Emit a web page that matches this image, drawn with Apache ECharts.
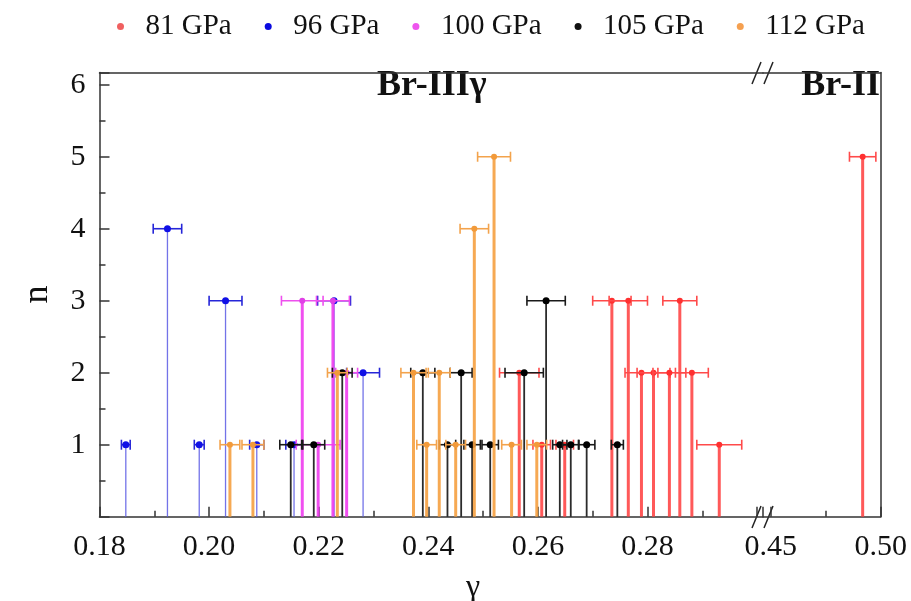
<!DOCTYPE html>
<html>
<head>
<meta charset="utf-8">
<script src="https://cdn.jsdelivr.net/npm/echarts@6/dist/echarts.min.js"></script>
<style>html,body{margin:0;padding:0;background:#fff}#c{width:911px;height:601px}</style>
</head>
<body>
<div id="c"></div>
<script>
// ---- data ----
const seriesNames = ['81 GPa', '96 GPa', '100 GPa', '105 GPa', '112 GPa'];

const gamma81 = [0.2566, 0.2607, 0.2649, 0.2735, 0.2765, 0.2789, 0.2811, 0.2840, 0.2859, 0.2881, 0.2931, 0.4918];
const n81     = [2, 1, 1, 3, 3, 2, 2, 2, 3, 2, 1, 5];
const err81   = [0.0036, 0.0016, 0.0016, 0.0035, 0.0035, 0.003, 0.003, 0.003, 0.0031, 0.003, 0.0041, 0.006];

const gamma96 = [0.1848, 0.1924, 0.1982, 0.2030, 0.2087, 0.2155, 0.2228, 0.2281];
const n96     = [1, 4, 1, 3, 1, 1, 3, 2];
const err96   = [0.0008, 0.0026, 0.0009, 0.003, 0.0013, 0.0015, 0.003, 0.003];

const gamma100 = [0.2170, 0.2199, 0.2226, 0.2251];
const n100     = [3, 1, 3, 2];
const err100   = [0.0038, 0.004, 0.003, 0.002];

const gamma105 = [0.2149, 0.2191, 0.2243, 0.2390, 0.2435, 0.2460, 0.2480, 0.2513, 0.2575, 0.2615, 0.2640, 0.2660, 0.2689, 0.2745];
const n105     = [1, 1, 2, 2, 1, 2, 1, 1, 2, 3, 1, 1, 1, 1];
const err105   = [0.002, 0.002, 0.0018, 0.0022, 0.0015, 0.002, 0.0015, 0.0015, 0.0035, 0.0035, 0.0013, 0.0015, 0.0015, 0.0011];

const gamma112 = [0.2038, 0.2080, 0.2234, 0.2373, 0.2397, 0.2420, 0.2450, 0.2484, 0.2520, 0.2552, 0.2598];
const n112     = [1, 1, 2, 2, 1, 2, 1, 4, 5, 1, 1];
const err112   = [0.0018, 0.002, 0.0018, 0.0023, 0.0018, 0.002, 0.0018, 0.0026, 0.003, 0.0018, 0.0018];

const xTicksLeft = [0.18, 0.20, 0.22, 0.24, 0.26, 0.28];
const xTicksRight = [0.45, 0.50];
const yTicks = [1, 2, 3, 4, 5, 6];

// ---- styles ----
const FONT = 'Liberation Serif';
const styles = {
  '81 GPa':  {stem: 'rgba(255,60,60,0.85)', bar: '#ff4a4a', pt: '#ff3030', legend: '#f06060', stemW: 3, r: 3},
  '96 GPa':  {stem: 'rgba(90,90,228,0.85)', bar: '#2626d8', pt: '#1010e6', legend: '#0a0ae0', stemW: 1.3, r: 3.5},
  '100 GPa': {stem: 'rgba(238,60,238,0.9)', bar: '#ee50ee', pt: '#e040e6', legend: '#ee55ee', stemW: 3, r: 3},
  '105 GPa': {stem: 'rgba(20,20,20,0.9)', bar: '#1a1a1a', pt: '#000000', legend: '#111111', stemW: 1.8, r: 3.5},
  '112 GPa': {stem: 'rgba(245,160,64,0.9)', bar: '#f3a34c', pt: '#f29a3a', legend: '#f5a050', stemW: 3, r: 3}
};

function makeData(g, n, e) { return g.map((v, i) => [v, n[i], e[i]]); }
const allData = {
  '81 GPa': makeData(gamma81, n81, err81),
  '96 GPa': makeData(gamma96, n96, err96),
  '100 GPa': makeData(gamma100, n100, err100),
  '105 GPa': makeData(gamma105, n105, err105),
  '112 GPa': makeData(gamma112, n112, err112)
};

const X1MIN = 0.18, X1MAX = 0.30108, X2MIN = 0.4465, X2MAX = 0.50, YMAX = 6.17;

function renderer(st) {
  return function (params, api) {
    const x = api.value(0), y = api.value(1), e = api.value(2);
    const b = api.coord([x, 0]);
    const t = api.coord([x, y]);
    const l = api.coord([x - e, y]);
    const r = api.coord([x + e, y]);
    const ch = 5;
    return {
      type: 'group',
      children: [
        {type: 'line', shape: {x1: b[0], y1: b[1], x2: t[0], y2: t[1]}, style: {stroke: st.stem, lineWidth: st.stemW}},
        {type: 'line', shape: {x1: l[0], y1: l[1], x2: r[0], y2: r[1]}, style: {stroke: st.bar, lineWidth: 1.6}},
        {type: 'line', shape: {x1: l[0], y1: l[1] - ch, x2: l[0], y2: l[1] + ch}, style: {stroke: st.bar, lineWidth: 1.6}},
        {type: 'line', shape: {x1: r[0], y1: r[1] - ch, x2: r[0], y2: r[1] + ch}, style: {stroke: st.bar, lineWidth: 1.6}},
        {type: 'circle', shape: {cx: t[0], cy: t[1], r: st.r}, style: {fill: st.pt}}
      ]
    };
  };
}

const series = [];
seriesNames.forEach(name => {
  const st = styles[name];
  const d = allData[name];
  const left = d.filter(p => p[0] < 0.35);
  const right = d.filter(p => p[0] > 0.35);
  series.push({
    name: name, type: 'custom', xAxisIndex: 0, yAxisIndex: 0,
    itemStyle: {color: st.legend}, renderItem: renderer(st),
    encode: {x: 0, y: 1}, data: left, clip: false
  });
  if (right.length) {
    series.push({
      name: name, type: 'custom', xAxisIndex: 2, yAxisIndex: 1,
      itemStyle: {color: st.legend}, renderItem: renderer(st),
      encode: {x: 0, y: 1}, data: right, clip: false
    });
  }
});

const axisLineStyle = {color: '#333', width: 1.5};
const G1L = 99.5, G1W = 663.5, G2L = 763, G2W = 117.7, GT = 72.5, GB = 601 - 516.7;

const option = {
  animation: false,
  backgroundColor: '#fff',
  textStyle: {fontFamily: FONT},
  legend: {
    data: seriesNames.map(n => ({name: n, icon: 'circle'})),
    top: 7, left: 112,
    itemWidth: 40, itemHeight: 7, itemGap: 33,
    textStyle: {fontFamily: FONT, fontSize: 29, color: '#111'}
  },
  grid: [
    {left: G1L, width: G1W, top: GT, bottom: GB},
    {left: G2L, width: G2W, top: GT, bottom: GB}
  ],
  xAxis: [
    { // 0: left bottom
      type: 'value', gridIndex: 0, position: 'bottom', min: X1MIN, max: X1MAX, interval: 0.02,
      axisLine: {show: true, lineStyle: axisLineStyle},
      axisTick: {show: true, inside: true, length: 10, lineStyle: {color: '#333', width: 1.5}},
      minorTick: {show: true, splitNumber: 2, length: 6, lineStyle: {color: '#333', width: 1.5}},
      splitLine: {show: false}, minorSplitLine: {show: false},
      axisLabel: {
        fontFamily: FONT, fontSize: 30, color: '#111', margin: 15, showMaxLabel: false,
        formatter: v => xTicksLeft.some(t => Math.abs(t - v) < 1e-6) ? v.toFixed(2) : ''
      }
    },
    { // 1: left top
      type: 'value', gridIndex: 0, position: 'top', min: X1MIN, max: X1MAX,
      axisLine: {show: true, lineStyle: axisLineStyle},
      axisTick: {show: false}, axisLabel: {show: false}, splitLine: {show: false}
    },
    { // 2: right bottom
      type: 'value', gridIndex: 1, position: 'bottom', min: X2MIN, max: X2MAX,
      axisLine: {show: true, lineStyle: axisLineStyle},
      axisTick: {show: true, inside: true, length: 10, customValues: xTicksRight, lineStyle: {color: '#333', width: 1.5}},
      splitLine: {show: false},
      axisLabel: {fontFamily: FONT, fontSize: 30, color: '#111', margin: 15, customValues: xTicksRight,
        formatter: v => v.toFixed(2)}
    },
    { // 3: right top
      type: 'value', gridIndex: 1, position: 'top', min: X2MIN, max: X2MAX,
      axisLine: {show: true, lineStyle: axisLineStyle},
      axisTick: {show: false}, axisLabel: {show: false}, splitLine: {show: false}
    },
    { // 4: right bottom minor tick
      type: 'value', gridIndex: 1, position: 'bottom', min: X2MIN, max: X2MAX,
      axisLine: {show: false},
      axisTick: {show: true, inside: true, length: 6, customValues: [0.475], lineStyle: {color: '#333', width: 1.5}},
      axisLabel: {show: false}, splitLine: {show: false}
    }
  ],
  yAxis: [
    {
      type: 'value', gridIndex: 0, position: 'left', min: 0, max: YMAX, interval: 1,
      name: 'n', nameLocation: 'middle', nameGap: 44, nameRotate: 90,
      nameTextStyle: {fontFamily: FONT, fontSize: 36, color: '#111'},
      axisLine: {show: true, lineStyle: axisLineStyle},
      axisTick: {show: true, inside: true, length: 10, lineStyle: {color: '#333', width: 1.5}},
      minorTick: {show: true, splitNumber: 2, length: 6, lineStyle: {color: '#333', width: 1.5}},
      splitLine: {show: false}, minorSplitLine: {show: false},
      axisLabel: {fontFamily: FONT, fontSize: 30, color: '#111', margin: 14, showMaxLabel: false,
        formatter: v => yTicks.includes(v) ? String(v) : ''}
    },
    {
      type: 'value', gridIndex: 1, position: 'right', min: 0, max: YMAX,
      axisLine: {show: true, lineStyle: axisLineStyle},
      axisTick: {show: false}, axisLabel: {show: false}, splitLine: {show: false}
    }
  ],
  graphic: [
    {type: 'text', left: 377, top: 68, style: {text: 'Br-IIIγ', font: 'bold 36px "Liberation Serif"', fill: '#111'}},
    {type: 'text', right: 31, top: 68, style: {text: 'Br-II', font: 'bold 36px "Liberation Serif"', fill: '#111'}},
    {type: 'text', left: 466, top: 572, style: {text: 'γ', font: '32px "Liberation Serif"', fill: '#111'}},
    // axis break marks
    {type: 'line', shape: {x1: 752, y1: 528, x2: 761, y2: 506}, style: {stroke: '#222', lineWidth: 1.5}},
    {type: 'line', shape: {x1: 764, y1: 528, x2: 773, y2: 506}, style: {stroke: '#222', lineWidth: 1.5}},
    {type: 'line', shape: {x1: 752, y1: 84, x2: 761, y2: 62}, style: {stroke: '#222', lineWidth: 1.5}},
    {type: 'line', shape: {x1: 764, y1: 84, x2: 773, y2: 62}, style: {stroke: '#222', lineWidth: 1.5}}
  ],
  series: series
};

const chart = echarts.init(document.getElementById('c'), null, {renderer: 'canvas'});
chart.setOption(option);
</script>
</body>
</html>
